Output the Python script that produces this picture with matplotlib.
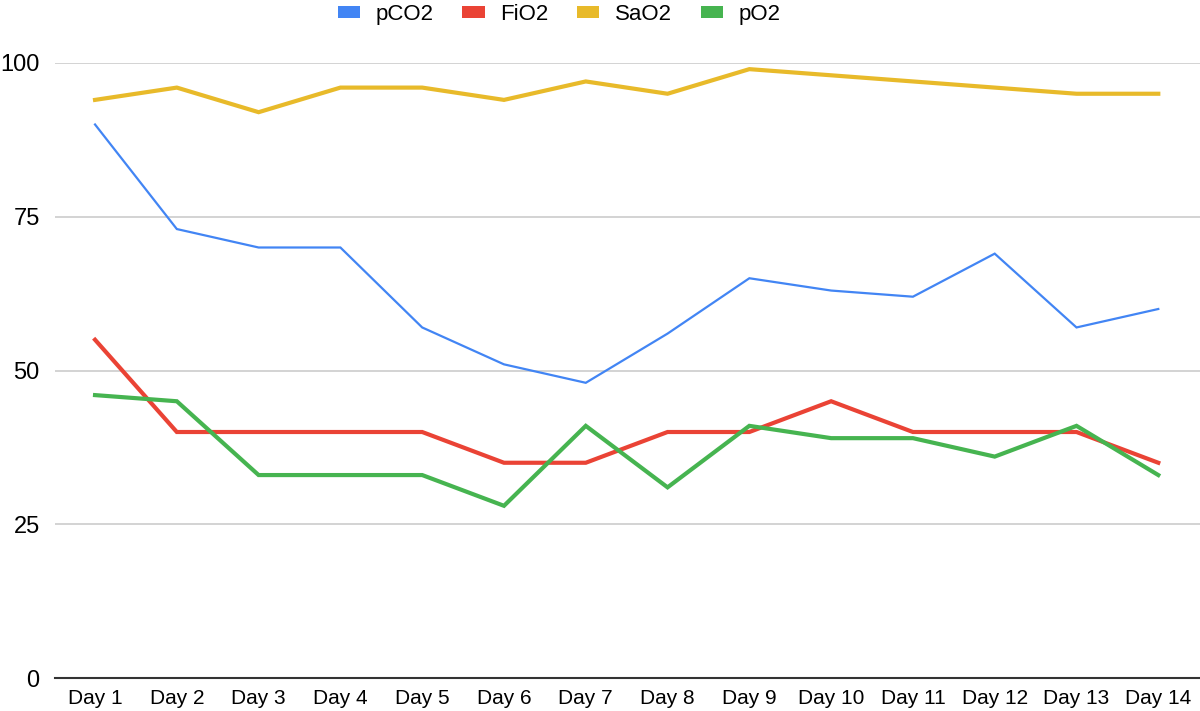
import matplotlib.pyplot as plt
from matplotlib.patches import Patch

plt.rcParams['font.family'] = ['Liberation Sans', 'DejaVu Sans']

# ========== data ==========
days = [f'Day {i}' for i in range(1, 15)]
pco2 = [90, 73, 70, 70, 57, 51, 48, 56, 65, 63, 62, 69, 57, 60]
fio2 = [55, 40, 40, 40, 40, 35, 35, 40, 40, 45, 40, 40, 40, 35]
sao2 = [94, 96, 92, 96, 96, 94, 97, 95, 99, 98, 97, 96, 95, 95]
po2 = [46, 45, 33, 33, 33, 28, 41, 31, 41, 39, 39, 36, 41, 33]

series = [
    ('pCO2', pco2, '#4285F4', 1.6),
    ('FiO2', fio2, '#EA4335', 3.0),
    ('SaO2', sao2, '#E8BA2A', 3.0),
    ('pO2', po2, '#46B450', 3.0),
]

fig = plt.figure(figsize=(12, 7.11), dpi=100)
ax = fig.add_axes([0.0458, 0.0464, 0.9542, 0.8650])

x = list(range(len(days)))
for name, vals, col, lw in series:
    ax.plot(x, vals, color=col, linewidth=lw, solid_joinstyle='miter', zorder=3)

ax.set_xlim(-0.49, 13.51)
ax.set_ylim(0, 100)
ax.set_yticks([0, 25, 50, 75, 100])
ax.set_xticks(x)
ax.set_xticklabels(days, fontsize=15)
ax.tick_params(axis='y', labelsize=17, length=0, pad=11)
ax.tick_params(axis='x', length=0, pad=8)
ax.grid(axis='y', color='#cccccc', linewidth=1.2, zorder=0)
for s in ['top', 'right', 'left']:
    ax.spines[s].set_visible(False)
ax.spines['bottom'].set_color('#333333')
ax.spines['bottom'].set_linewidth(1.5)
ax.spines['bottom'].set_zorder(4)

handles = [Patch(facecolor=c, edgecolor='none') for _, _, c, _ in series]
fig.legend(handles, [s[0] for s in series], loc='upper center',
           bbox_to_anchor=(0.466, 1.023), ncol=4, frameon=False, fontsize=16,
           handlelength=1.0, handleheight=0.45, columnspacing=1.3, handletextpad=0.7)

fig.savefig('out.png', dpi=100)
